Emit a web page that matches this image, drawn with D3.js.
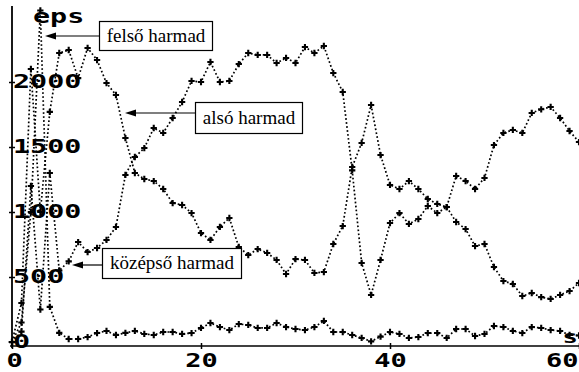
<!DOCTYPE html>
<html>
<head>
<meta charset="utf-8">
<script src="https://cdn.jsdelivr.net/npm/d3@7"></script>
<style>
  html, body { margin: 0; padding: 0; background: #fff; }
  svg { display: block; }
</style>
</head>
<body>
<svg id="chart" width="579" height="372"></svg>
<script>
// ---- data ----
const seconds = [0,1,2,3,4,5,6,7,8,9,10,11,12,13,14,15,16,17,18,19,20,21,22,23,24,25,26,27,28,29,30,
  31,32,33,34,35,36,37,38,39,40,41,42,43,44,45,46,47,48,49,50,51,52,53,54,55,56,57,58,59,60];

const felsoHarmad = [0,150,1000,2550,270,70,23,23,38,69,85,54,70,85,62,54,77,77,62,69,108,
  146,115,92,138,131,108,108,146,115,100,92,115,162,77,77,54,31,5,41,77,
  62,31,38,69,69,31,100,100,46,62,123,115,85,69,115,108,92,85,54,50];

const alsoHarmad = [0,300,2100,1000,1770,2223,2246,2030,2262,2169,1992,1900,1569,1300,1254,1238,1177,1069,1054,992,838,
  785,885,954,731,669,715,685,631,523,638,631,531,538,754,892,1346,1531,1823,1438,1208,
  1177,1238,1177,1100,1062,1038,923,869,738,754,577,469,446,354,377,345,331,362,392,454];

const kozepsoHarmad = [0,80,1200,250,1300,550,620,769,692,723,785,885,1285,1423,1492,1646,1608,1723,1846,2008,2000,
  2154,2000,2008,2138,2223,2208,2208,2146,2185,2146,2269,2223,2277,2069,1923,1320,608,362,631,915,
  992,908,946,1046,992,1038,1277,1238,1177,1262,1515,1608,1631,1608,1762,1790,1808,1723,1623,1538];

const seriesNames = ["felső harmad", "alsó harmad", "középső harmad"];
const xTicks = [0, 20, 40, 60];
const yTicks = [0, 500, 1000, 1500, 2000];
const yUnit = "eps";
const xUnit = "s";

// ---- drawing ----
const svg = d3.select("#chart");
const x = d3.scaleLinear().domain([0, 60]).range([12, 579]);
const y = d3.scaleLinear().domain([0, 2000]).range([342, 82]);
const axisY = 346;
const tickFont = "'DejaVu Sans Mono', monospace";
const sx = 1.42;

// axes lines
svg.append("line").attr("x1", x(0)).attr("x2", x(0)).attr("y1", 6).attr("y2", axisY + 2)
  .attr("stroke", "#000").attr("stroke-width", 1.8);
svg.append("line").attr("x1", x(0) - 2).attr("x2", 579).attr("y1", axisY).attr("y2", axisY)
  .attr("stroke", "#000").attr("stroke-width", 1.6);

// y axis (labels inside the plot, right of the axis)
const gy = svg.append("g").attr("transform", `translate(${x(0)},0)`)
  .call(d3.axisRight(y).tickValues(yTicks).tickSize(3).tickPadding(0).tickFormat(d => d));
gy.select(".domain").remove();
gy.selectAll(".tick line").attr("x1", -3).attr("stroke-width", 1.5);
gy.selectAll(".tick text")
  .attr("x", 1 / sx).attr("y", -2).attr("dy", "0.36em")
  .attr("transform", `scale(${sx},1)`)
  .attr("text-anchor", "start")
  .attr("font-family", tickFont).attr("font-weight", "bold").attr("font-size", 20)
  .attr("fill", "#000");

// x axis
const gx = svg.append("g").attr("transform", `translate(0,${axisY})`)
  .call(d3.axisBottom(x).tickValues(xTicks).tickSize(3).tickFormat(d => d));
gx.select(".domain").remove();
gx.selectAll(".tick line").attr("y1", -3).attr("stroke-width", 1.5);
gx.selectAll(".tick text")
  .attr("y", 0).attr("dy", "0.36em")
  .attr("transform", `translate(0,14) scale(${sx},1)`)
  .attr("text-anchor", d => d === 60 ? "end" : "middle")
  .attr("x", d => d === 60 ? -1 / sx : (d === 0 ? 2 / sx : 0))
  .attr("font-family", tickFont).attr("font-weight", "bold").attr("font-size", 19)
  .attr("fill", "#000");

// unit labels
svg.append("text").attr("transform", `translate(33,23) scale(${sx},1)`)
  .attr("font-family", tickFont).attr("font-weight", "bold").attr("font-size", 20)
  .text(yUnit);
svg.append("text").attr("transform", `translate(578,343) scale(${sx},1)`)
  .attr("text-anchor", "end")
  .attr("font-family", tickFont).attr("font-weight", "bold").attr("font-size", 18)
  .text(xUnit);

// series
const allSeries = [felsoHarmad, alsoHarmad, kozepsoHarmad];
const line = d3.line().x((d, i) => x(seconds[i])).y(d => y(d));
const cross = d3.symbol().type(d3.symbolCross).size(22);

allSeries.forEach(vals => {
  svg.append("path").datum(vals).attr("d", line)
    .attr("fill", "none").attr("stroke", "#000")
    .attr("stroke-width", 1.7).attr("stroke-dasharray", "1.7 2.3");
  svg.append("g").selectAll("path").data(vals).join("path")
    .attr("transform", (d, i) => `translate(${x(seconds[i])},${y(d)})`)
    .attr("d", cross).attr("fill", "#000");
});

// annotation boxes with arrows
const annotations = [
  { name: seriesNames[0], box: [99, 21, 113, 29], arrowY: 36, tipX: 45 },
  { name: seriesNames[1], box: [195, 102, 107, 31], arrowY: 113, tipX: 125 },
  { name: seriesNames[2], box: [102, 248, 139, 30], arrowY: 265, tipX: 72 }
];
annotations.forEach(a => {
  const [bx, by, bw, bh] = a.box;
  svg.append("rect").attr("x", bx + 0.5).attr("y", by + 0.5).attr("width", bw).attr("height", bh)
    .attr("fill", "#fff").attr("stroke", "#000").attr("stroke-width", 1.2);
  svg.append("text").attr("x", bx + bw / 2 + 0.5).attr("y", by + bh / 2 + 6)
    .attr("text-anchor", "middle")
    .attr("font-family", "'Liberation Serif', 'Times New Roman', serif").attr("font-size", 19)
    .attr("fill", "#000").text(a.name);
  svg.append("line").attr("x1", bx).attr("x2", a.tipX + 8).attr("y1", a.arrowY).attr("y2", a.arrowY)
    .attr("stroke", "#000").attr("stroke-width", 1.2);
  svg.append("path")
    .attr("d", `M${a.tipX},${a.arrowY} L${a.tipX + 11},${a.arrowY - 3.5} L${a.tipX + 11},${a.arrowY + 3.5} Z`)
    .attr("fill", "#000");
});
</script>
</body>
</html>
